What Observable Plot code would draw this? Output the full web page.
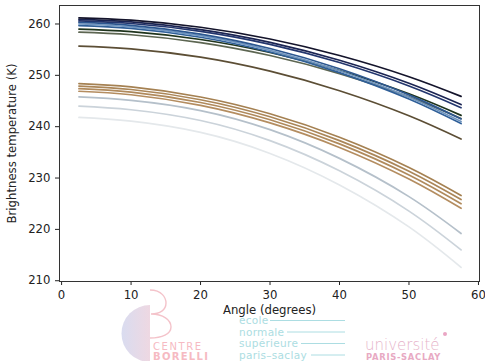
<!DOCTYPE html>
<html>
<head>
<meta charset="utf-8">
<script src="https://cdn.jsdelivr.net/npm/d3@7"></script>
<script src="https://cdn.jsdelivr.net/npm/@observablehq/plot@0.6"></script>
<style>
  html, body { margin: 0; padding: 0; background: white; }
  #chart { position: relative; width: 485px; height: 361px; overflow: hidden; }
</style>
</head>
<body>
<div id="chart"></div>
<script>
// ---- data ----
const angles = [2.5, 10, 20, 30, 40, 50, 57.5];
const xTicks = [0, 10, 20, 30, 40, 50, 60];
const yTicks = [210, 220, 230, 240, 250, 260];
const xLabel = "Angle (degrees)";
const yLabel = "Brightness temperature (K)";

const seriesNames = ["G3","G2","G1","B4","B3","B2","B1","L9","L8","L7","L6","L5","L4","L3","L2","L1"];
const seriesColors = ["#e4e8eb","#cbd3da","#b5c0ca","#b48d60","#b08a5c","#ab8658","#a58152","#5c4e35","#5d6652","#1f341d","#2f5f98","#6f95c0","#2c5790","#23366e","#1b2452","#14142b"];
const G3 = [241.8, 241.07, 238.88, 234.79, 228.66, 220.48, 212.6];
const G2 = [244.0, 243.3, 241.2, 237.28, 231.4, 223.56, 216.0];
const G1 = [245.8, 245.13, 243.14, 239.42, 233.83, 226.38, 219.2];
const B4 = [246.9, 246.22, 244.16, 240.74, 235.96, 229.8, 224.1];
const B3 = [247.4, 246.73, 244.71, 241.35, 236.65, 230.6, 225.0];
const B2 = [247.9, 247.24, 245.25, 241.93, 237.29, 231.33, 225.8];
const B1 = [248.4, 247.75, 245.78, 242.51, 237.94, 232.05, 226.6];
const L9 = [255.7, 255.16, 253.53, 250.81, 247.01, 242.13, 237.6];
const L8 = [258.4, 257.9, 256.38, 253.86, 250.34, 245.8, 241.6];
const L7 = [259.0, 258.5, 256.98, 254.46, 250.94, 246.4, 242.2];
const L6 = [259.7, 259.13, 257.41, 254.54, 250.53, 245.38, 240.6];
const L5 = [260.0, 259.43, 257.72, 254.87, 250.88, 245.75, 241.0];
const L4 = [260.3, 259.74, 258.04, 255.22, 251.28, 246.2, 241.5];
const L3 = [260.6, 260.09, 258.57, 256.04, 252.49, 247.93, 243.7];
const L2 = [260.9, 260.40, 258.91, 256.42, 252.93, 248.45, 244.3];
const L1 = [261.2, 260.74, 259.36, 257.07, 253.86, 249.73, 245.9];
const seriesValues = [G3, G2, G1, B4, B3, B2, B1, L9, L8, L7, L6, L5, L4, L3, L2, L1];

const rows = seriesNames.flatMap((name, i) =>
  angles.map((a, j) => ({series: name, angle: a, T: seriesValues[i][j]})));

const plot = Plot.plot({
  width: 485,
  height: 361,
  marginLeft: 59,
  marginRight: 6,
  marginTop: 5,
  marginBottom: 80,
  style: {fontFamily: "DejaVu Sans", fontSize: "11.7px", color: "#222", background: "white", overflow: "visible"},
  x: {domain: [-0.3, 60.15], ticks: xTicks, tickSize: 4, tickPadding: 5, label: null},
  y: {domain: [209.85, 263.6], ticks: yTicks, tickSize: 4, tickPadding: 5, label: null},
  color: {domain: seriesNames, range: seriesColors},
  marks: [
    Plot.line(rows, {x: "angle", y: "T", z: "series", stroke: "series", strokeWidth: 1.7, curve: "natural"}),
    Plot.frame({stroke: "#333", strokeWidth: 1}),
    Plot.text([yLabel], {frameAnchor: "left", dx: -47, rotate: -90, textAnchor: "middle", text: d => d, fontSize: 11.7, fill: "#222"}),
    Plot.text([xLabel], {frameAnchor: "bottom", dy: 32, textAnchor: "middle", text: d => d, fontSize: 11.7, fill: "#222"})
  ]
});
document.getElementById("chart").appendChild(plot);

// ---- faded watermark logos below the chart ----
const svg = d3.select(plot);
const defs = svg.append("defs");
const grad = defs.append("linearGradient").attr("id", "halfdisc").attr("x1", "0").attr("x2", "1");
grad.append("stop").attr("offset", "0").attr("stop-color", "#d9dcf0");
grad.append("stop").attr("offset", "1").attr("stop-color", "#eed8e2");
const g = svg.insert("g", ":first-child").attr("pointer-events", "none").attr("text-anchor", "start");
g.append("path").attr("d", "M150,305 A28.5,28.5 0 0 0 150,362 Z").attr("fill", "url(#halfdisc)");
g.append("path").attr("d", "M150,290 C162,290 166,298 166,303 C166,310 160,314 151,314 C163,314 171,320 171,327 C171,334 162,338 150,338")
  .attr("fill", "none").attr("stroke", "#f4c3ca").attr("stroke-width", 1.4);
g.append("text").attr("x", 153).attr("y", 350).text("CENTRE")
  .attr("font-family", "DejaVu Sans").attr("font-size", 10).attr("letter-spacing", 1.6).attr("fill", "#f6bac2");
g.append("text").attr("x", 153).attr("y", 360).text("BORELLI")
  .attr("font-family", "DejaVu Sans").attr("font-size", 10).attr("font-weight", "bold").attr("letter-spacing", 1.3).attr("fill", "#f6bac2");
const ens = [["école", 324, 270], ["normale", 335.5, 287], ["supérieure", 347, 301], ["paris–saclay", 358.5, 311]];
ens.forEach(([t, y, x2]) => {
  g.append("text").attr("x", 239).attr("y", y).text(t)
    .attr("font-family", "DejaVu Sans").attr("font-size", 10.5).attr("letter-spacing", 0.3).attr("fill", "#acdde2");
  g.append("line").attr("x1", x2).attr("x2", 345).attr("y1", y - 3.5).attr("y2", y - 3.5)
    .attr("stroke", "#acdde2").attr("stroke-width", 1);
});
g.append("text").attr("x", 365).attr("y", 350).text("université")
  .attr("font-family", "DejaVu Sans").attr("font-size", 15).attr("font-weight", 300).attr("fill", "#e6b3c9");
g.append("circle").attr("cx", 445).attr("cy", 334).attr("r", 2).attr("fill", "#eaa6c4");
g.append("text").attr("x", 366).attr("y", 360).text("PARIS-SACLAY")
  .attr("font-family", "DejaVu Sans").attr("font-size", 8.4).attr("font-weight", "bold").attr("letter-spacing", 0.7).attr("fill", "#e8aac3");
</script>
</body>
</html>
